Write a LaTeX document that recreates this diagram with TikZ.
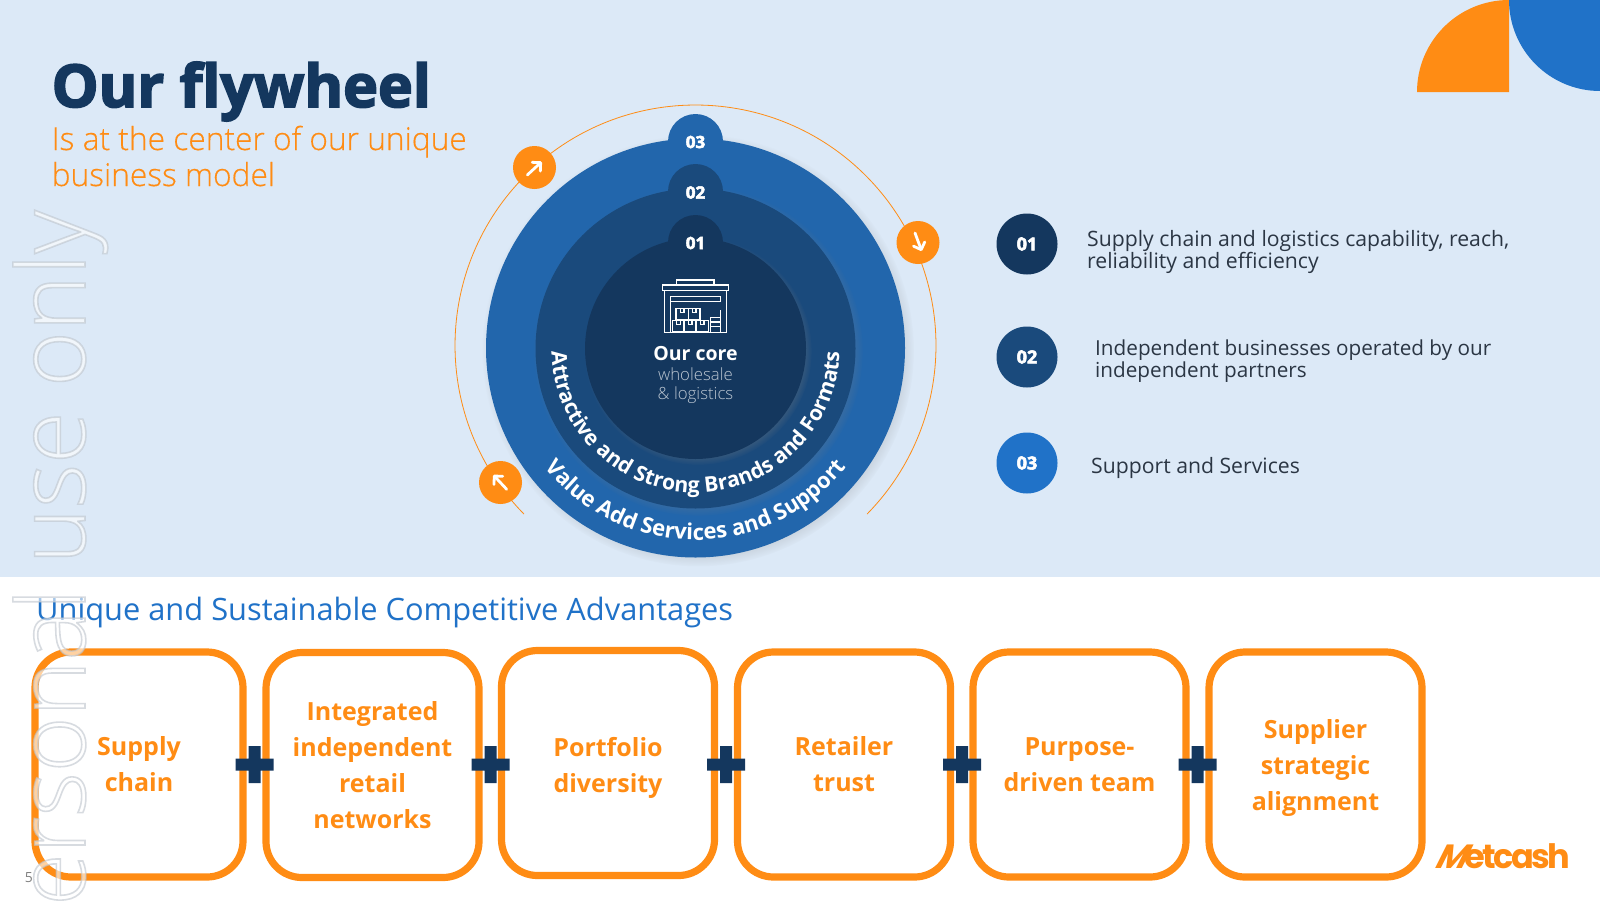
\documentclass[tikz,border=0pt]{standalone}
\usepackage{fontspec}
\setmainfont{Open Sans}
\newfontfamily\lightfont{Open Sans}[UprightFont={* Light}]
\newfontfamily\subfont{Open Sans}[UprightFont={* Light},FakeBold=.4]
\newfontfamily\heavyfont{Open Sans}[UprightFont={* Bold},FakeBold=3]
\newfontfamily\logofont{Poppins}[UprightFont={* Bold}]
\usetikzlibrary{shadows,fadings,decorations.text,arrows.meta}
\definecolor{mcnavy}{HTML}{14375E}
\definecolor{mcmid}{HTML}{1A4A7C}
\definecolor{mcouter}{HTML}{2266AC}
\definecolor{mcblue}{HTML}{2072C8}
\definecolor{mcorange}{HTML}{FF8C14}
\definecolor{mcpale}{HTML}{DCE9F7}
\definecolor{mctext}{HTML}{2B3644}
\tikzset{
  disc/.style={circle,inner sep=0,outer sep=0,minimum size=#1},
  ringdisc/.style={disc=#1,circular drop shadow={shadow xshift=2.5pt,shadow yshift=-2.5pt,shadow scale=1.03,opacity=.55}},
  tabnum/.style={text=white,font=\heavyfont\fontsize{17}{17}\selectfont},
  turnbtn/.style={disc=43pt,fill=mcorange},
  turnarrow/.style={draw=white,line width=2.8pt,line cap=round,-{Straight Barb[length=6pt,width=12pt,round]}},
  advbox/.style={draw=mcorange,line width=7.2pt,rounded corners=36pt,fill=white,outer sep=0,
    minimum width=#1,minimum height=225pt,align=center,text=mcorange,
    font=\bfseries\fontsize{25}{36}\selectfont},
  legendtext/.style={anchor=base west,align=left,text=mctext,inner sep=0,
    font=\fontsize{21.2}{22}\selectfont},
  legnum/.style={disc=61pt,text=white,font=\heavyfont\fontsize{18}{18}\selectfont},
  icon/.style={draw=white,line width=1.5pt},
}
\begin{document}
\begin{tikzpicture}[x=1pt,y=-1pt]
  \path[use as bounding box] (0,0) rectangle (1600,900);
  \fill[white] (0,0) rectangle (1600,900);
  \fill[mcpale] (0,0) rectangle (1600,577);
  % corner shapes
  \fill[mcorange] (1417,92) arc[start angle=180,end angle=270,radius=92] -- (1509,92) -- cycle;
  \fill[mcblue] (1509,0) arc[start angle=180,end angle=90,radius=91] -- (1600,0) -- cycle;
  % heading
  \node[anchor=base west,inner sep=0,text=mcnavy,font=\heavyfont\fontsize{59}{59}\selectfont] (title) at (51.5,107) {Our flywheel};
  \node[anchor=base west,inner sep=0,align=left,text=mcorange,font=\subfont\fontsize{31.7}{36}\selectfont] (subtitle) at (51.5,186) {Is at the center of our unique\\business model};
  % wheel
  \draw[mcorange,line width=.8pt] (695.5,345.5) ++(135.5:240.5) arc[start angle=135.5,end angle=404.5,radius=240.5];
  \node[ringdisc=419pt,fill=mcouter] (outer) at (695.5,348) {};
  \node[disc=55pt,fill=mcouter] (tabc) at (695.5,141.5) {};
  \node[ringdisc=320pt,fill=mcmid] (middle) at (695.5,348.5) {};
  \node[disc=55pt,fill=mcmid] (tabb) at (695.5,191.5) {};
  \node[ringdisc=221pt,fill=mcnavy] (inner) at (695.5,348.5) {};
  \node[disc=55pt,fill=mcnavy] (taba) at (695.5,242.5) {};
  \node[tabnum] (numc) at (695.5,142) {03};
  \node[tabnum] (numb) at (695.5,192.5) {02};
  \node[tabnum] (numa) at (695.5,243) {01};
  \path[decorate,decoration={text along path,text align=center,text color=white,
    text={|\bfseries\fontsize{22}{22}\selectfont|Value Add Services and Support}}]
    (695.5,348) ++(170:192) arc[start angle=170,end angle=10,radius=192];
  \path[decorate,decoration={text along path,text align=center,text color=white,
    text={|\bfseries\fontsize{21.2}{21.2}\selectfont|Attractive and Strong Brands and Formats}}]
    (695.5,348.5) ++(190:144) arc[start angle=190,end angle=-10,radius=144];
  % warehouse
  \begin{scope}[shift={(620,260)},x=.3333pt,y=-.3333pt]
    \draw[icon] (128,75) rectangle (325,92);
    \draw[icon] (170,75) -- (170,60) -- (282,60) -- (282,75);
    \draw[icon] (198,74) -- (250,74) (215,62) -- (262,62);
    \draw[icon] (133,92) -- (133,218) -- (320,218) -- (320,92);
    \draw[icon] (152,218) -- (152,110) -- (302,110) -- (302,125) -- (152,125);
    \draw[icon] (168,178) -- (168,145) rectangle (205,178) (205,145) rectangle (240,178);
    \draw[icon] (158,215) -- (158,182) rectangle (192,215) (192,182) rectangle (228,215) (228,182) rectangle (265,215);
    \draw[icon] (182,145) -- (182,157) -- (192,157) -- (192,145) (217,145) -- (217,157) -- (228,157) -- (228,145);
    \draw[icon] (170,182) -- (170,194) -- (181,194) -- (181,182) (205,182) -- (205,194) -- (216,194) -- (216,182) (241,182) -- (241,194) -- (252,194) -- (252,182);
    \draw[icon] (272,215) -- (272,172) -- (302,172) (302,150) -- (302,218);
    \draw[icon] (272,186) -- (302,186) (272,200) -- (302,200);
  \end{scope}
  \node[anchor=base,inner sep=0,text=white,font=\bfseries\fontsize{19.5}{20}\selectfont] (core) at (695.5,360) {Our core};
  \node[anchor=base,inner sep=0,align=center,text=black!15!mcpale,font=\lightfont\fontsize{16.8}{19}\selectfont] (coresub) at (695.5,399) {wholesale\\\& logistics};
  % turn buttons
  \node[turnbtn] (btna) at (534.5,167.5) {};
  \node[turnbtn] (btnb) at (918,242.5) {};
  \node[turnbtn] (btnc) at (500.5,482.5) {};
  \draw[turnarrow] (527.3,175) -- (541.7,161.7);
  \draw[turnarrow] (915,233) -- (921.7,251);
  \draw[turnarrow] (506.7,489.3) -- (493.3,475);
  % legend
  \node[legnum,fill=mcnavy] (leg1) at (1027,244) {01};
  \node[legnum,fill=mcmid] (leg2) at (1027,357) {02};
  \node[legnum,fill=mcblue] (leg3) at (1027,463) {03};
  \node[legendtext] (legtext1) at (1087,268) {Supply chain and logistics capability, reach,\\reliability and efficiency};
  \node[legendtext,font=\fontsize{20.7}{22}\selectfont] (legtext2) at (1095,377) {Independent businesses operated by our\\independent partners};
  \node[legendtext] (legtext3) at (1091,473) {Support and Services};
  % advantages
  \node[anchor=base west,inner sep=0,text=mcblue,font=\fontsize{30.8}{31}\selectfont] (advhead) at (36,620) {Unique and Sustainable Competitive Advantages};
  \node[advbox=208pt] (box1) at (139,764.5) {Supply\\chain};
  \node[advbox=213pt] (box2) at (372.5,765) {Integrated\\independent\\retail\\networks};
  \node[advbox=213pt] (box3) at (608,763) {\rule{0pt}{28pt}Portfolio\\diversity};
  \node[advbox=213pt] (box4) at (844,764.5) {Retailer\\trust};
  \node[advbox=213pt] (box5) at (1079.5,764.5) {Purpose-\\driven team};
  \node[advbox=213pt] (box6) at (1315.5,764.5) {\rule{0pt}{26pt}Supplier\\strategic\\alignment};
  \foreach \x in {254.5,490.5,726,962,1197.5} {
    \fill[mcnavy] (\x-19,758.5) rectangle (\x+19,770.5) (\x-6,746) rectangle (\x+6,783);
  }
  \node[anchor=base east,inner sep=0,text=mcorange,font=\logofont\fontsize{33.6}{34}\selectfont] (logo) at (1570,868) {\addfontfeature{LetterSpace=-8}{\addfontfeature{FakeSlant=.5}M}etcash};
  \node[anchor=base,inner sep=0,text=gray,font=\fontsize{14}{14}\selectfont] (pagenum) at (29,882) {5};
  % overlay text
  \node[anchor=base east,inner sep=0,rotate=90,opacity=.6,text=white,font=\lightfont\fontsize{95}{95}\selectfont] (mark) at (85,210) {\special{pdf:code 2 Tr 1.6 w 0.74 0.77 0.8 RG}Personal use only\special{pdf:code 0 Tr 0 w}};
\end{tikzpicture}
\end{document}
